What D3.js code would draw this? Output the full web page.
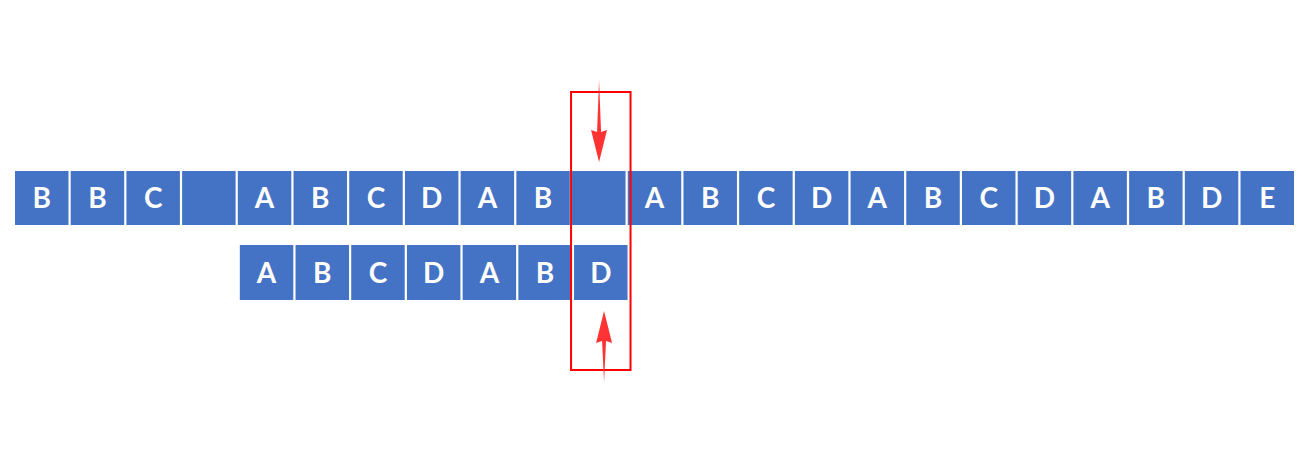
<!DOCTYPE html>
<html><head><meta charset="utf-8">
<script src="https://cdn.jsdelivr.net/npm/d3@7"></script>
<style>body{margin:0;background:#fff}</style>
</head><body>
<svg id="chart" width="1311" height="458"></svg>
<script>
// text row and pattern row (empty string = blank cell)
const textRow = ["B","B","C","","A","B","C","D","A","B","","A","B","C","D","A","B","C","D","A","B","D","E"];
const patternRow = ["A","B","C","D","A","B","D"];
const patternStart = 4;   // slot index where pattern begins
const compareSlot = 10;   // slot being compared

const svg = d3.select('#chart');
const x = d3.scaleBand().domain(d3.range(textRow.length)).range([15, 1294]).paddingInner(0.04).paddingOuter(0);
const blue = '#4472c4';

function drawRow(data, offset, y0, h, dx) {
  const g = svg.append('g');
  const cells = g.selectAll('g').data(data).join('g')
    .attr('transform', (d, i) => `translate(${x(i + offset) + dx},${y0})`);
  cells.append('rect').attr('width', x.bandwidth()).attr('height', h).attr('fill', blue);
  cells.append('text').text(d => d)
    .attr('x', x.bandwidth() / 2).attr('y', h / 2 + 10)
    .attr('text-anchor', 'middle').attr('fill', '#fff')
    .style('font', 'bold 28px Lato, "Open Sans", sans-serif');
}
drawRow(textRow, 0, 171, 54, 0);
drawRow(patternRow, patternStart, 245, 55, 2);

// highlight box
const bx = x(compareSlot);
svg.append('rect').attr('x', bx - 1).attr('y', 92).attr('width', x.bandwidth() + 6).attr('height', 278)
  .attr('fill', 'none').attr('stroke', '#ff0000').attr('stroke-width', 2);

// arrows: thin tapered tail + triangular head
function arrow(cx, yTail, yTip) {
  const dir = Math.sign(yTip - yTail);
  const headLen = 30, headW = 8;
  const yBase = yTip - dir * headLen;
  svg.append('path')
    .attr('d', `M${cx},${yTail} L${cx + 2},${yBase} L${cx + headW},${yBase - dir * 2} L${cx},${yTip} L${cx - headW},${yBase - dir * 2} L${cx - 2},${yBase} Z`)
    .attr('fill', '#ff3333');
}
arrow(bx + 27, 80, 162);
arrow(bx + 32, 382, 311);
</script>
</body></html>
